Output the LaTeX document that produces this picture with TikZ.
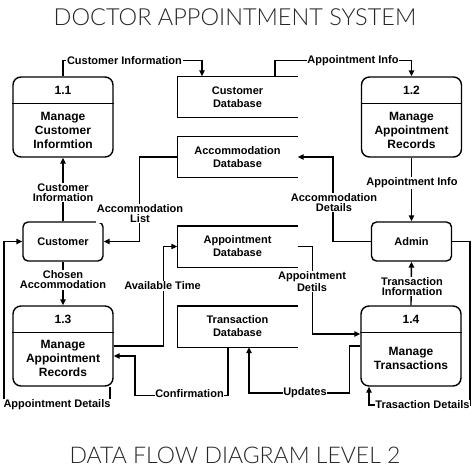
\documentclass[tikz,border=0pt]{standalone}
\usepackage{fontspec}
\setmainfont{Liberation Sans}
\newfontfamily\titlefont{Lato Light}
\usetikzlibrary{arrows.meta}
\begin{document}
\begin{tikzpicture}[x=1pt,y=-1pt,line width=1.4pt,
  proc/.style={draw, rounded corners=8pt, minimum width=100pt, minimum height=80pt, inner sep=0pt},
  ent/.style={draw, rounded corners=5pt, minimum width=80pt, minimum height=39pt, inner sep=0pt, font=\bfseries\fontsize{11}{13}\selectfont},
  store/.style={minimum width=119pt, minimum height=40pt, inner sep=0pt, align=center, font=\bfseries\fontsize{11}{13}\selectfont},
  lbl/.style={fill=white, inner sep=0.6pt, align=center, font=\bfseries\fontsize{11}{10}\selectfont},
  ptext/.style={align=center, font=\bfseries\fontsize{12}{14}\selectfont},
  flow/.style={-{Triangle[length=6pt,width=5.5pt]}},
  ttl/.style={font=\titlefont\fontsize{23.5}{24}\selectfont, text=black!85}]
\useasboundingbox (0,0) rectangle (474,474);
% titles
\node[ttl] (title) at (235,17) {DOCTOR APPOINTMENT SYSTEM};
\node[ttl, font=\titlefont\fontsize{23}{23}\selectfont] (subtitle) at (235,455) {DATA FLOW DIAGRAM LEVEL 2};
% processes
\node[proc] (p11) at (63,117) {};
\node[proc] (p12) at (411.5,117) {};
\node[proc] (p13) at (63,346) {};
\node[proc] (p14) at (411,346) {};
\foreach \p in {p11,p12,p13,p14}{
  \draw ([yshift=-27pt]\p.north west) -- ([yshift=-27pt]\p.north east);
}
\node[ptext] (p11id) at (63,90.5) {1.1};
\node[ptext] (p11t) at (63,130.5) {Manage\\Customer\\Informtion};
\node[ptext] (p12id) at (411.5,90.5) {1.2};
\node[ptext] (p12t) at (411.5,130.5) {Manage\\Appointment\\Records};
\node[ptext] (p13id) at (63,319.5) {1.3};
\node[ptext] (p13t) at (63,358.5) {Manage\\Appointment\\Records};
\node[ptext] (p14id) at (411,319.5) {1.4};
\node[ptext] (p14t) at (411,358) {Manage\\Transactions};
% entities
\node[ent] (cust) at (63,241.5) {Customer};
\node[ent] (admin) at (411.5,241.5) {Admin};
% data stores
\node[store] (cdb) at (237.5,97) {Customer\\Database};
\node[store] (adb) at (237.5,157) {Accommodation\\Database};
\node[store] (apdb) at (237.5,246.5) {Appointment\\Database};
\node[store] (tdb) at (237.5,326.5) {Transaction\\Database};
\foreach \s in {cdb,adb,apdb,tdb}{
  \draw (\s.north east) -- (\s.north west) -- (\s.south west) -- (\s.south east);
}
% flows
\draw[flow] (p11.north) -- ++(0,-16) -| ([xshift=-35.5pt]cdb.north);
\node[lbl] (l1) at (124.5,61) {Customer Information};
\draw[flow] ([xshift=37.5pt]cdb.north) -- ++(0,-16) -| (p12.north);
\node[lbl] (l2) at (353,61) {Appointment Info};
\draw[flow] (cust.north) -- (p11.south);
\node[lbl] (l3) at (63,192.5) {Customer\\Information};
\draw[flow] (adb.west) -- ++(-38,0) |- (cust.east);
\node[lbl] (l4) at (140,213.5) {Accommodation\\List};
\draw[flow] (admin.west) -- ++(-38,0) |- (adb.east);
\node[lbl] (l5) at (334,202.5) {Accommodation\\Details};
\draw[flow] (p12.south) -- (admin.north);
\node[lbl] (l6) at (412,183) {Appointment Info};
\draw[flow] (admin.east) -| (470,405) -| ([xshift=-42pt]p14.south);
\node[lbl] (l7) at (422.5,405) {Trasaction Details};
\draw[flow] (p14.north) -- (admin.south);
\node[lbl] (l8) at (412,286.5) {Transaction\\Information};
\draw[flow] (cust.south) -- (p13.north);
\node[lbl] (l9) at (63,280) {Chosen\\Accommodation};
\draw[flow] (p13.east) -- ++(50,0) |- (apdb.west);
\node[lbl] (l10) at (162.5,286) {Available Time};
\draw[flow] (apdb.east) -- ++(15,0) |- ([yshift=12pt]p14.west);
\node[lbl] (l11) at (312,281.5) {Appointment\\Detils};
\draw[flow] (p14.west) -- ++(-11,0) -- ++(0,47) -| ([xshift=11.5pt]tdb.south);
\node[lbl] (l12) at (305,393) {Updates};
\draw[flow] ([xshift=-9.5pt]tdb.south) -- ++(0,48) -| (135,356) -- ([yshift=-10pt]p13.east);
\node[lbl] (l13) at (189.5,394) {Confirmation};
\draw[flow] ([xshift=47pt]p13.south) |- (4,405) |- (cust.west);
\node[lbl] (l14) at (57,404.5) {Appointment Details};
\end{tikzpicture}
\end{document}
